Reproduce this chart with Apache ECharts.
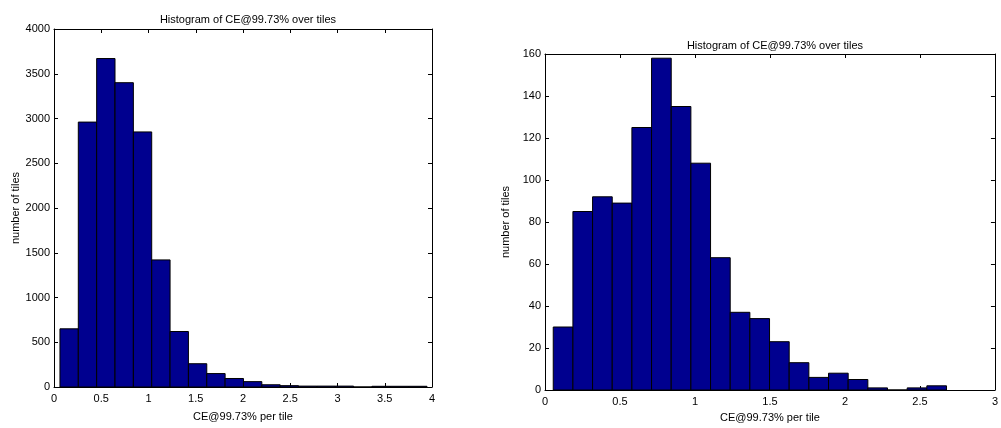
<!DOCTYPE html>
<html>
<head>
<meta charset="utf-8">
<script src="https://cdn.jsdelivr.net/npm/echarts@6/dist/echarts.min.js"></script>
<style>
html,body{margin:0;padding:0;background:#fff;}
#c{width:1001px;height:428px;}
</style>
</head>
<body>
<div id="c"></div>
<script>
// ---- data ----
const titleText = 'Histogram of CE@99.73% over tiles';
const xName = 'CE@99.73% per tile';
const yName = 'number of tiles';

// left histogram: bin start, bin width, counts
const leftBinStart = 0.063;
const leftBinWidth = 0.1942;
const leftCounts = [650, 2960, 3670, 3400, 2850, 1420, 620, 260, 150, 95, 60, 25, 15, 10, 10, 10, 0, 8, 8, 8];

// right histogram
const rightBinStart = 0.055;
const rightBinWidth = 0.1311;
const rightCounts = [30, 85, 92, 89, 125, 158, 135, 108, 63, 37, 34, 23, 13, 6, 8, 5, 1, 0, 1, 2];

function toBins(start, width, counts) {
  return counts.map((c, i) => [start + i * width, start + (i + 1) * width, c]);
}
const leftData = toBins(leftBinStart, leftBinWidth, leftCounts);
const rightData = toBins(rightBinStart, rightBinWidth, rightCounts);

const FONT = '"Liberation Sans", Arial, sans-serif';
const txt = {color: '#000', fontFamily: FONT, fontSize: 11};
const plain = v => String(v);

function renderBar(params, api) {
  const p0 = api.coord([api.value(0), api.value(2)]);
  const p1 = api.coord([api.value(1), 0]);
  return {
    type: 'rect',
    shape: {x: p0[0], y: p0[1], width: p1[0] - p0[0], height: p1[1] - p0[1]},
    style: {fill: '#00008F', stroke: '#000', lineWidth: 1}
  };
}

function xAxes(gridIndex, max) {
  const base = {
    type: 'value', gridIndex, min: 0, max, interval: 0.5,
    splitLine: {show: false},
    axisLine: {show: true, onZero: false, lineStyle: {color: '#000', width: 1}},
    axisTick: {show: true, inside: true, length: 4, lineStyle: {color: '#000'}}
  };
  return [
    Object.assign({}, base, {
      position: 'bottom',
      axisLabel: Object.assign({margin: 6, show: true, formatter: plain}, txt),
      name: xName, nameLocation: 'middle', nameGap: gridIndex === 0 ? 24 : 22,
      nameTextStyle: txt
    }),
    Object.assign({}, base, {position: 'top', axisLabel: {show: false}})
  ];
}
function yAxes(gridIndex, max, interval, gap) {
  const base = {
    type: 'value', gridIndex, min: 0, max, interval,
    splitLine: {show: false},
    axisLine: {show: true, onZero: false, lineStyle: {color: '#000', width: 1}},
    axisTick: {show: true, inside: true, length: 4, lineStyle: {color: '#000'}}
  };
  return [
    Object.assign({}, base, {
      position: 'left',
      axisLabel: Object.assign({margin: 4, formatter: plain}, txt),
      name: yName, nameLocation: 'middle', nameGap: gap, nameRotate: 90,
      nameTextStyle: txt
    }),
    Object.assign({}, base, {position: 'right', axisLabel: {show: false}})
  ];
}

const chart = echarts.init(document.getElementById('c'), null, {renderer: 'canvas'});
chart.setOption({
  animation: false,
  backgroundColor: '#fff',
  title: [
    {text: titleText, left: 243, top: 9, textAlign: 'center',
     textStyle: Object.assign({fontWeight: 'normal'}, txt)},
    {text: titleText, left: 770, top: 35, textAlign: 'center',
     textStyle: Object.assign({fontWeight: 'normal'}, txt)}
  ],
  grid: [
    {left: 54, right: 569, top: 29, bottom: 41},
    {left: 545, right: 1, top: 54, bottom: 37}
  ],
  xAxis: [].concat(xAxes(0, 4), xAxes(1, 3)),
  yAxis: [].concat(yAxes(0, 4000, 500, 33), yAxes(1, 160, 20, 34)),
  series: [
    {type: 'custom', xAxisIndex: 0, yAxisIndex: 0, renderItem: renderBar,
     encode: {x: [0, 1], y: 2}, data: leftData, clip: false},
    {type: 'custom', xAxisIndex: 2, yAxisIndex: 2, renderItem: renderBar,
     encode: {x: [0, 1], y: 2}, data: rightData, clip: false}
  ]
});
</script>
</body>
</html>
